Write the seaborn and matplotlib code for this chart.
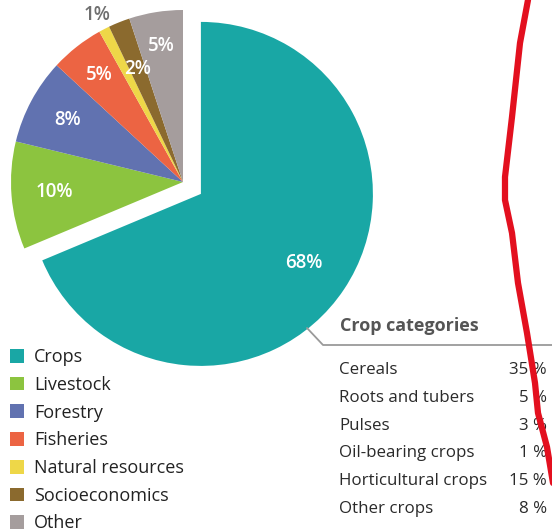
import numpy as np
import matplotlib.pyplot as plt
import seaborn as sns
from matplotlib.lines import Line2D

# Research topics share (%)
topics = ['Crops', 'Livestock', 'Forestry', 'Fisheries',
          'Natural resources', 'Socioeconomics', 'Other']
shares = [68, 10, 8, 5, 1, 2, 5]
topic_colors = ['#19A7A5', '#8CC43F', '#6172B0', '#EC6443',
                '#EED748', '#8B6A2E', '#A59D9D']

# Crop categories table
crop_names = ['Cereals', 'Roots and tubers', 'Pulses', 'Oil-bearing crops',
              'Horticultural crops', 'Other crops']
crop_shares = [35, 5, 3, 1, 15, 8]

W, H = 552, 531
sns.set_theme(style='white')
plt.rcParams['font.family'] = ['Open Sans', 'DejaVu Sans']

fig = plt.figure(figsize=(W / 100, H / 100), dpi=100)

# axes over whole figure, 1 data unit = pie radius (172 px), pie center at (183, 182) px
R, cx, cy = 172.0, 183.0, 182.0
ax = fig.add_axes([0, 0, 1, 1])

explode = [0.125] + [0] * (len(shares) - 1)
wedges, _ = ax.pie(shares, colors=topic_colors, startangle=90, counterclock=False,
                   explode=explode, radius=1, wedgeprops=dict(linewidth=0))
ax.set_aspect('auto')
ax.set_xlim(-cx / R, (W - cx) / R)
ax.set_ylim(-(H - cy) / R, cy / R)
ax.axis('off')

# percentage labels
label_r = [0.72, 0.75, 0.76, 0.79, 1.09, 0.71, 0.80]
for w, s, r in zip(wedges, shares, label_r):
    th = np.deg2rad((w.theta1 + w.theta2) / 2)
    x0, y0 = w.center
    col = '#6f6f6f' if r > 1 else 'white'
    ax.text(x0 + r * np.cos(th), y0 + r * np.sin(th), f'{s}%',
            ha='center', va='center', color=col, fontsize=13.5, fontweight='semibold')

# legend
fig.legend(wedges, topics, loc='upper left', bbox_to_anchor=(10 / W, 1 - 348 / H),
           frameon=False, fontsize=13, handlelength=0.78, handleheight=0.78,
           handletextpad=0.55, labelspacing=0.54, borderpad=0, borderaxespad=0,
           labelcolor='#222222')

# crop categories table
def fx(px):
    return px / W

def fy(py):
    return 1 - py / H

fig.text(fx(340), fy(326), 'Crop categories', ha='left', va='center',
         fontsize=13, fontweight='bold', color='#555555')
fig.add_artist(Line2D([fx(307), fx(323), fx(W)], [fy(328), fy(345), fy(345)],
                      transform=fig.transFigure, color='#9a9a9a', lw=1.3))
for i, (name, val) in enumerate(zip(crop_names, crop_shares)):
    yy = fy(370 + i * 27.8)
    fig.text(fx(339), yy, name, ha='left', va='center', fontsize=12.2, color='#2a2a2a')
    fig.text(fx(547), yy, f'{val} %', ha='right', va='center', fontsize=12.2, color='#2a2a2a')

# hand-drawn red annotation stroke
stroke_px = [(528, 0), (520, 43), (512, 117), (505, 177), (505, 200), (512, 233),
             (518, 283), (527, 333), (535, 383), (538, 413), (547, 447), (553, 483)]
fig.add_artist(Line2D([fx(p[0]) for p in stroke_px], [fy(p[1]) for p in stroke_px],
                      transform=fig.transFigure, color='#E3101F', lw=4.5,
                      solid_capstyle='round', solid_joinstyle='round', zorder=10))

fig.savefig('out.png', dpi=100)
